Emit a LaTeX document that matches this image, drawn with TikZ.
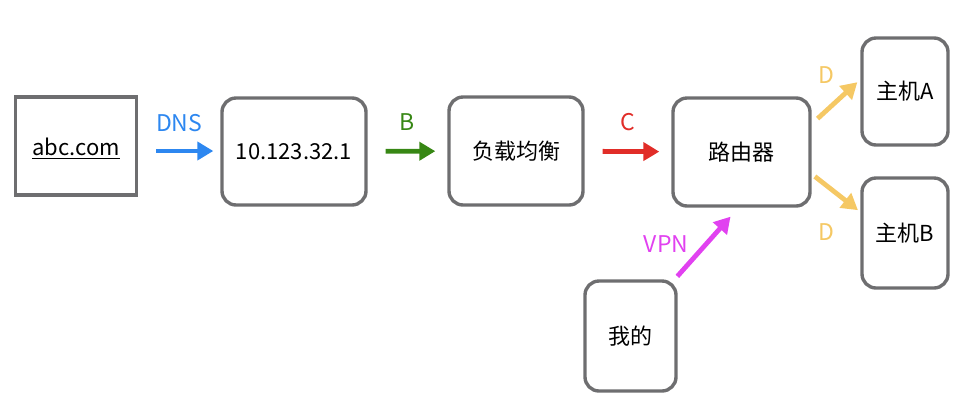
\documentclass[tikz,border=0pt]{standalone}
\usepackage{fontspec}
\setmainfont{Noto Sans CJK SC}
\usetikzlibrary{arrows.meta,positioning}
\definecolor{boxgray}{RGB}{110,110,112}
\definecolor{dnsblue}{RGB}{45,135,240}
\definecolor{bgreen}{RGB}{55,135,20}
\definecolor{cred}{RGB}{225,45,40}
\definecolor{dyellow}{RGB}{245,200,100}
\definecolor{vpnpink}{RGB}{225,65,240}
\tikzset{
  hostbox/.style={draw=boxgray,line width=1.7pt,rounded corners=7pt,
    inner sep=0pt,font=\fontsize{11}{13}\selectfont},
  flow/.style={line width=2.4pt,-{Triangle[length=8pt,width=9pt]},
    shorten <=1pt,shorten >=1pt},
  flowlabel/.style={font=\fontsize{11.5}{13}\selectfont}
}
\begin{document}
\begin{tikzpicture}[x=0.5pt,y=-0.5pt]
\useasboundingbox (0,0) rectangle (963,403);
% boxes
\node[hostbox,rounded corners=0pt,minimum width=60.5pt,minimum height=49pt,
  text height=11.5pt,text depth=2.5pt] (domain) at (76,146) {\underline{abc.com}};
\node[hostbox,minimum width=72pt,minimum height=53.5pt] (ip) at (294,151.5) {10.123.32.1};
\node[hostbox,minimum width=67pt,minimum height=54pt] (lb) at (516,151) {负载均衡};
\node[hostbox,minimum width=68.5pt,minimum height=54pt] (router) at (741.5,152) {路由器};
\node[hostbox,minimum width=43pt,minimum height=53.5pt] (hosta) at (905,91.5) {主机A};
\node[hostbox,minimum width=43pt,minimum height=55pt] (hostb) at (905,233) {主机B};
\node[hostbox,minimum width=45.5pt,minimum height=55pt] (mine) at (630.5,336) {我的};
% arrows
\draw[flow,dnsblue,shorten <=9pt,shorten >=3.5pt] ([yshift=-2.5pt]domain.east) -- ([yshift=-2.5pt]domain.east -| ip.west)
  node[flowlabel,midway,above=5pt] (dnslbl) {DNS};
\draw[flow,bgreen,shorten <=9pt,shorten >=6pt] (ip) -- (lb)
  node[flowlabel,midway,above=6pt] (blbl) {B};
\draw[flow,cred,shorten <=9pt,shorten >=6pt] (lb) -- (router)
  node[flowlabel,midway,above=6pt] (clbl) {C};
\draw[flow,dyellow,shorten <=4pt,shorten >=2pt] ([yshift=14pt]router.east) -- ([yshift=6pt]hosta.west);
\draw[flow,dyellow,shorten <=2pt,shorten >=1.5pt] ([yshift=-11pt]router.east) -- ([yshift=10.5pt]hostb.west);
\draw[flow,vpnpink,shorten <=2pt,shorten >=6pt] ([xshift=-1.5pt]mine.north east) -- ([xshift=-1.5pt]router.south);
% labels of the diagonal arrows
\node[flowlabel,text=dyellow] (dalbl) at (826,75) {D};
\node[flowlabel,text=dyellow] (dblbl) at (826,232) {D};
\node[flowlabel,text=vpnpink] (vpnlbl) at (666,244) {VPN};
\end{tikzpicture}
\end{document}
